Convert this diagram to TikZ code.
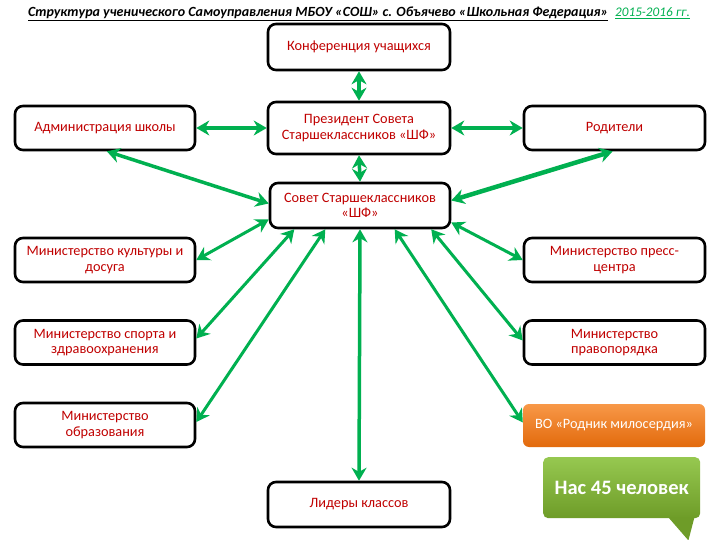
\documentclass[tikz,border=0pt]{standalone}
\usepackage{fontspec}
\setmainfont{Carlito}
\usetikzlibrary{arrows.meta,calc}
\definecolor{arrgreen}{RGB}{0,176,80}
\definecolor{txtred}{RGB}{192,0,0}
\definecolor{orangeA}{RGB}{248,152,72}
\definecolor{orangeB}{RGB}{226,106,12}
\definecolor{calloutA}{RGB}{150,200,80}
\definecolor{calloutB}{RGB}{110,156,40}
\begin{document}
\begin{tikzpicture}[x=1pt,y=-1pt,
  box/.style={draw=black, line width=2.6pt, rounded corners=8pt, fill=white,
    minimum width=180pt, minimum height=44pt, align=center, text=txtred,
    font=\fontsize{14.3}{15.5}\selectfont, inner sep=2pt},
  link/.style={draw=arrgreen, line width=3.5pt,
    {Stealth[length=13pt,width=15pt]}-{Stealth[length=13pt,width=15pt]}},
  thinlink/.style={link, line width=3pt},
  thicklink/.style={link, line width=4.5pt},
]
\useasboundingbox (0,0) rectangle (720,540);
\fill[white] (0,0) rectangle (720,540);

% title
\node[inner sep=0pt] (title) at (359,14)
  {{\fontsize{14}{15}\selectfont\bfseries\itshape\underline{Структура ученического Самоуправления МБОУ «СОШ» с. Объячево «Школьная Федерация»}}\hspace{7pt}{\fontsize{13.2}{15}\selectfont\itshape\color{arrgreen}\underline{2015-2016 гг.}}};

% boxes
\node[box, minimum width=182pt, minimum height=46pt] (conf) at (359,47) {Конференция учащихся};
\node[box, minimum width=182pt, minimum height=52pt] (pres) at (359,128) {Президент Совета\\Старшеклассников «ШФ»};
\node[box] (admin) at (105,128) {Администрация школы};
\node[box, minimum width=181pt] (parents) at (614.5,128) {Родители};
\node[box, minimum height=45pt] (sovet) at (360,205.5) {Совет Старшеклассников\\«ШФ»};
\node[box] (culture) at (105,260) {Министерство культуры и\\досуга};
\node[box, minimum width=181pt] (press) at (614.5,260) {Министерство пресс-\\центра};
\node[box] (sport) at (105,342.5) {Министерство спорта и\\здравоохранения};
\node[box, minimum width=181pt] (order) at (614.5,342.5) {Министерство\\правопорядка};
\node[box] (edu) at (105,425) {Министерство\\образования};
\node[box, minimum width=182pt, minimum height=45pt] (leaders) at (359,504.5) {Лидеры классов};
\node[draw=none, rounded corners=6pt, top color=orangeA, bottom color=orangeB,
  minimum width=182pt, minimum height=43pt, text=white,
  font=\fontsize{14.3}{15.5}\selectfont, inner sep=2pt] (vo) at (614,425.5) {ВО «Родник милосердия»};

% callout
\node[rounded corners=5pt, top color=calloutA, bottom color=calloutB,
  minimum width=157pt, minimum height=61pt, text=white, inner sep=2pt,
  font=\fontsize{20.5}{22}\selectfont\bfseries, anchor=north west] (callout) at (543,457) {Нас 45 человек};
\fill[calloutB] ($(callout.south east)+(-32,-1)$) -- ($(callout.south east)+(-6,-1)$) -- ($(callout.south east)+(-12,22)$) -- cycle;

% connectors
\draw[link] (conf.south) -- (pres.north);
\draw[link] (pres.south) -- (sovet.north);
\draw[link] (admin.east) -- (pres.west);
\draw[link] (pres.east) -- (parents.west);
\draw[link] ($(admin.south west)!0.51!(admin.south east)$) -- ($(sovet.west)+(0,-2)$);
\draw[thicklink] ($(parents.south west)!0.49!(parents.south east)$) -- ($(sovet.east)+(0,-5)$);
\draw[thinlink] ($(sovet.west)+(0,14)$) -- (culture.east);
\draw[thinlink] ($(sovet.east)+(0,17)$) -- (press.west);
\draw[thinlink] ($(sovet.south west)!0.14!(sovet.south east)$) -- ($(sport.east)+(0,-4)$);
\draw[thinlink] ($(sovet.south west)!0.31!(sovet.south east)$) -- ($(edu.east)+(0,-3)$);
\draw[link] ($(sovet.south west)!0.5!(sovet.south east)$) -- (leaders.north);
\draw[thinlink] ($(sovet.south west)!0.69!(sovet.south east)$) -- ($(vo.west)+(0,-3)$);
\draw[thinlink] ($(sovet.south west)!0.89!(sovet.south east)$) -- ($(order.west)+(0,-2)$);
\end{tikzpicture}
\end{document}
